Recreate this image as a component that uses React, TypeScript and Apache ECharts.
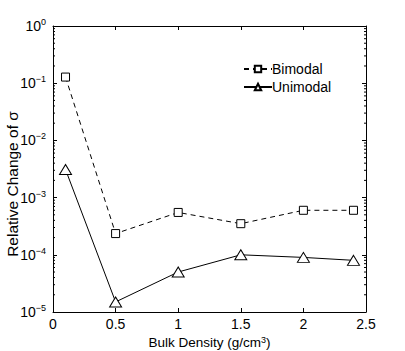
import React, { useEffect, useRef } from "react";
import * as echarts from "echarts";

const densities = [0.1, 0.5, 1, 1.5, 2, 2.4];
const bimodal = [0.128, 2.35e-4, 5.5e-4, 3.5e-4, 6.0e-4, 6.0e-4];
const unimodal = [3.1e-3, 1.5e-5, 5.0e-5, 1.0e-4, 9.0e-5, 8.0e-5];
const xTicks = [0, 0.5, 1, 1.5, 2, 2.5];
const yDecades = [-5, -4, -3, -2, -1, 0];
const minorMultipliers = [2, 3, 4, 5, 6, 7, 8, 9];

const FONT = "Liberation Sans, Arial, Helvetica, sans-serif";

export default function App() {
  const ref = useRef<HTMLDivElement>(null);
  useEffect(() => {
    if (!ref.current) return;
    const chart = echarts.init(ref.current, undefined, { renderer: "svg" });

    const minorTicks: number[] = [];
    yDecades.slice(0, -1).forEach((d) => {
      minorMultipliers.forEach((m) => minorTicks.push(m * Math.pow(10, d)));
    });

    const supFmt = (v: number) => {
      const e = Math.round(Math.log10(v));
      return `{b|10}{s|${e === 0 ? "0" : "\u2212" + Math.abs(e)}}`;
    };

    const xMin = xTicks[0];
    const xMax = xTicks[xTicks.length - 1];

    const axisLine = { onZero: false, lineStyle: { color: "#000", width: 1 } };

    chart.setOption({
      animation: false,
      backgroundColor: "#fff",
      textStyle: { fontFamily: FONT },
      grid: { left: 53, top: 26, right: 39, bottom: 39, containLabel: false, outerBoundsMode: "none" },
      legend: {
        data: ["Bimodal", "Unimodal"],
        orient: "vertical",
        left: 238,
        top: 57,
        itemGap: 4,
        itemWidth: 28,
        itemHeight: 8,
        textStyle: { fontFamily: FONT, fontSize: 14, color: "#000", padding: [0, 0, 0, -5] },
      },
      xAxis: [
        {
          type: "value",
          min: xMin,
          max: xMax,
          interval: 0.5,
          position: "bottom",
          name: "Bulk Density (g/cm{s|3})",
          nameLocation: "middle",
          nameGap: 23,
          nameMoveOverlap: false,
          nameTextStyle: {
            fontFamily: FONT,
            fontSize: 13.5,
            color: "#000",
            rich: { s: { fontSize: 9, verticalAlign: "top", padding: [0, 0, 6, 0], color: "#000", fontFamily: FONT } },
          },
          axisLine,
          axisTick: { inside: true, length: 4, lineStyle: { color: "#000" } },
          axisLabel: { color: "#000", fontSize: 14, margin: 5, fontFamily: FONT },
          splitLine: { show: false },
        },
        {
          type: "value",
          min: xMin,
          max: xMax,
          interval: 0.5,
          position: "top",
          axisLine,
          axisTick: { inside: true, length: 4, lineStyle: { color: "#000" } },
          axisLabel: { show: false },
          splitLine: { show: false },
        },
      ],
      yAxis: [
        {
          type: "log",
          logBase: 10,
          min: 1e-5,
          max: 1,
          position: "left",
          name: "Relative Change of \u03c3",
          nameLocation: "middle",
          nameGap: 33,
          nameMoveOverlap: false,
          nameTextStyle: { fontFamily: FONT, fontSize: 15.5, color: "#000", padding: [0, 30, 0, 0] },
          axisLine,
          axisTick: { inside: true, length: 4, lineStyle: { color: "#000" } },
          axisLabel: {
            color: "#000",
            margin: 7,
            formatter: supFmt,
            rich: {
              b: { fontSize: 14, color: "#000", fontFamily: FONT },
              s: { fontSize: 9, color: "#000", fontFamily: FONT, verticalAlign: "top", padding: [0, 0, 8, 0] },
            },
          },
          splitLine: { show: false },
        },
        {
          type: "log",
          logBase: 10,
          min: 1e-5,
          max: 1,
          position: "right",
          axisLine,
          axisTick: { inside: true, length: 4, lineStyle: { color: "#000" } },
          axisLabel: { show: false },
          splitLine: { show: false },
        },
      ],
      series: [
        {
          name: "minor",
          type: "custom",
          silent: true,
          legendHoverLink: false,
          data: minorTicks.map((v) => [xMin, v]),
          renderItem: (params: any, api: any) => {
            const v = api.value(1);
            const pl = api.coord([xMin, v]);
            const pr = api.coord([xMax, v]);
            return {
              type: "group",
              children: [
                { type: "line", shape: { x1: pl[0], y1: pl[1], x2: pl[0] + 2, y2: pl[1] }, style: { stroke: "#000", lineWidth: 1 } },
                { type: "line", shape: { x1: pr[0], y1: pr[1], x2: pr[0] - 2, y2: pr[1] }, style: { stroke: "#000", lineWidth: 1 } },
              ],
            };
          },
          z: 1,
        },
        {
          name: "Bimodal",
          type: "line",
          data: densities.map((d, i) => [d, bimodal[i]]),
          symbol: "rect",
          symbolSize: 8,
          lineStyle: { color: "#000", width: 1, type: [5, 4] },
          itemStyle: { color: "#fff", borderColor: "#000", borderWidth: 1 },
          z: 3,
        },
        {
          name: "Unimodal",
          type: "line",
          data: densities.map((d, i) => [d, unimodal[i]]),
          symbol: "triangle",
          symbolSize: [12, 10],
          lineStyle: { color: "#000", width: 1 },
          itemStyle: { color: "#fff", borderColor: "#000", borderWidth: 1 },
          z: 3,
        },
      ],
    });
    return () => chart.dispose();
  }, []);
  return (
    <div
      ref={ref}
      style={{ position: "fixed", left: 0, top: 0, width: 405, height: 351, background: "#fff" }}
    />
  );
}
